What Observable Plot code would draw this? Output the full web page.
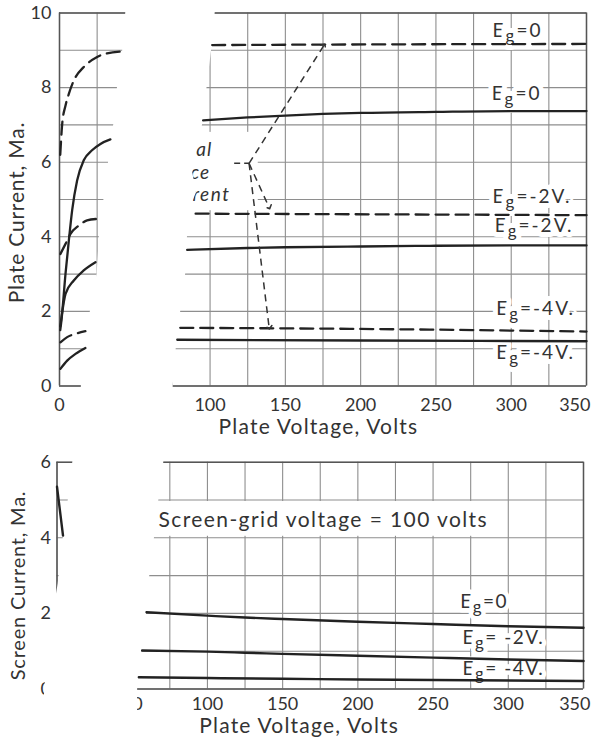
<!DOCTYPE html>
<html><head><meta charset="utf-8">
<script src="https://cdn.jsdelivr.net/npm/d3@7"></script>
<script src="https://cdn.jsdelivr.net/npm/@observablehq/plot@0.6"></script>
<style>
html,body{margin:0;padding:0;background:#fff;}
#chart{width:591px;}
#chart svg{display:block;}
</style></head><body><div id="chart"></div>
<script>
// ---------- tick labels ----------
const plateTicksX = [0, 100, 150, 200, 250, 300, 350];
const plateTicksY = [0, 2, 4, 6, 8, 10];
const screenTicksX = [50, 100, 150, 200, 250, 300, 350];
const screenTicksY = [0, 2, 4, 6];

// ---------- plate-current chart: [plate volts, mA] ----------
// dashed = total space current, solid = plate current
const spaceEg0Low  = [[0.5,6.2],[1.8,7.03],[4,7.52],[6.2,7.83],[9.5,8.19],[16.1,8.55],[25,8.82],[31.6,8.92],[41.5,8.97]];
const spaceEg0High = [[101.4,9.14],[225,9.16],[350,9.17]];
const plateEg0Low  = [[0.5,1.5],[1.3,1.76],[4,3.01],[6.2,3.9],[8.4,4.71],[11.7,5.51],[16.1,6.05],[21.6,6.32],[27.2,6.49],[33.8,6.61]];
const plateEg0High = [[95.4,7.12],[125,7.2],[150,7.25],[200,7.32],[250,7.35],[300,7.37],[350,7.37]];
const spaceEg2Low  = [[0.6,3.54],[4,3.81],[7.3,4.08],[12.8,4.3],[18.3,4.44],[25,4.48]];
const spaceEg2High = [[90.4,4.62],[225,4.6],[350,4.58]];
const plateEg2Low  = [[0.5,1.6],[1.3,1.84],[4,2.47],[9.5,2.83],[16.1,3.1],[23.9,3.32]];
const plateEg2High = [[84.8,3.65],[125,3.7],[150,3.72],[200,3.74],[250,3.76],[300,3.77],[350,3.77]];
const spaceEg4Low  = [[0.6,1.17],[5.1,1.31],[10.6,1.4],[17.2,1.47]];
const spaceEg4High = [[80.2,1.56],[200,1.53],[350,1.46]];
const plateEg4Low  = [[0.6,0.46],[5.1,0.68],[10.6,0.86],[17.2,1.02]];
const plateEg4High = [[78.2,1.24],[200,1.22],[350,1.2]];

const plateLabels = ["Eg=0", "Eg=0", "Eg=-2V.", "Eg=-2V.", "Eg=-4V.", "Eg=-4V."];
const plateLabelV = [287.6, 287, 287.6, 289, 290, 290];
const plateLabelI = [9.53, 7.84, 5.08, 4.30, 2.08, 0.90];

// note (partly lost in the torn scan): lines, right end (V), level (I)
const noteLines = ["Total", "space", "current"];
const noteEndV = [101.4, 100, 113.5];
const noteI = [6.33, 5.72, 5.12];
// arrows from the note: tail [V, I] to heads
const arrowTail = [125.9, 5.97];
const arrowHeads = [[175.6, 9.13], [139.2, 4.79], [139.2, 1.57]];

// torn gap in the scan (plate chart): I level, left edge V, right edge V
const plateGapI     = [10.2, 10, 9, 8, 7, 6.8, 6.37, 5.72, 5.18, 4.7, 4, 3, 2, 1, 0, -0.2];
const plateGapLeft  = [44, 44, 42, 38.5, 36, 35.2, 33.7, 31.7, 30, 28.7, 26.5, 25, 20.5, 17.2, 14.5, 14.5];
const plateGapRight = [103.5, 103.4, 101, 98, 95, 94, 91.5, 88.5, 91, 86, 85, 83.8, 80.5, 77.5, 75.5, 75.5];

// ---------- screen-current chart: [plate volts, mA] ----------
const screenEg0Low = [[0,5.35],[4,4.06]];
const screenEg0 = [[59.5,2.03],[100,1.94],[125,1.89],[150,1.85],[200,1.78],[250,1.72],[300,1.66],[350,1.62]];
const screenEg2 = [[56.6,1.02],[100,0.99],[125,0.96],[150,0.93],[200,0.88],[250,0.83],[300,0.78],[350,0.74]];
const screenEg4 = [[54.4,0.31],[100,0.29],[150,0.27],[200,0.25],[350,0.21]];
const screenLabels = ["Eg=0", "Eg= -2V.", "Eg= -4V."];
const screenLabelV = [268, 269.5, 269.5];
const screenLabelI = [2.31, 1.36, 0.54];
const screenNote = "Screen-grid voltage = 100 volts";

const screenGapI     = [6.3, 6, 5, 4, 2.78, 2, 1, 0, -0.8];
const screenGapLeft  = [11.5, 10.5, 7.5, 4.2, 0.8, -2.5, -5.5, -8.2, -9];
const screenGapRight = [71, 71, 67.7, 64.8, 61, 59.5, 56.5, 53.6, 53.6];

// ---------- helpers ----------
const FONT = "Lato, 'Open Sans', sans-serif";
const INK = "#333";
const GRID = "#8e8e8e";
const LINE = "#222";
function rows(arr, id, dashed) { return arr.map(([V, I]) => ({V, I, id, dashed})); }
function gap(I, L, R) { return I.map((v, i) => ({I: v, L: L[i], R: R[i]})); }

const plateRows = [
  ...rows(spaceEg0Low, "s0L", true), ...rows(spaceEg0High, "s0H", true),
  ...rows(plateEg0Low, "p0L", false), ...rows(plateEg0High, "p0H", false),
  ...rows(spaceEg2Low, "s2L", true), ...rows(spaceEg2High, "s2H", true),
  ...rows(plateEg2Low, "p2L", false), ...rows(plateEg2High, "p2H", false),
  ...rows(spaceEg4Low, "s4L", true), ...rows(spaceEg4High, "s4H", true),
  ...rows(plateEg4Low, "p4L", false), ...rows(plateEg4High, "p4H", false)
];
const screenRows = [
  ...rows(screenEg0Low, "e0L", false), ...rows(screenEg0, "e0", false),
  ...rows(screenEg2, "e2", false), ...rows(screenEg4, "e4", false)
];
const plateLabelRows = plateLabels.map((t, i) => ({t, V: plateLabelV[i], I: plateLabelI[i]}));
const screenLabelRows = screenLabels.map((t, i) => ({t, V: screenLabelV[i], I: screenLabelI[i]}));
const noteRows = noteLines.map((t, i) => ({t, V: noteEndV[i], I: noteI[i]}));
const arrows = arrowHeads.map(([V, I]) => ({V1: arrowTail[0], I1: arrowTail[1], V2: V, I2: I}));

const gridV = d3.range(0, 351, 25);
const fmt = d => String(d);

// ---------- top: plate current ----------
const plateChart = Plot.plot({
  width: 591, height: 440,
  marginLeft: 59, marginRight: 5, marginTop: 12.5, marginBottom: 54.5,
  x: {domain: [0, 350]}, y: {domain: [0, 10]},
  style: {fontFamily: FONT, fontSize: "18px", color: INK, background: "#fff"},
  marks: [
    Plot.ruleY(d3.range(0, 11), {stroke: GRID, strokeWidth: 1.1}),
    Plot.ruleX(gridV, {stroke: GRID, strokeWidth: 1.1}),
    Plot.ruleY([0, 10], {stroke: "#555", strokeWidth: 1.5}),
    Plot.ruleX([0, 350], {stroke: "#555", strokeWidth: 1.5}),
    Plot.rect([{V1: 70, V2: 132, I1: 4.7, I2: 6.8}], {x1: "V1", x2: "V2", y1: "I1", y2: "I2", fill: "#fff"}),
    Plot.text(noteRows, {x: "V", y: "I", text: "t", textAnchor: "end", lineAnchor: "middle", fontStyle: "italic", fontSize: 19, fill: INK}),
    Plot.text(plateLabelRows, {x: "V", y: "I", text: "t", textAnchor: "start", fontSize: 19, fill: INK, stroke: "#fff", strokeWidth: 10, paintOrder: "stroke"}),
    Plot.axisX({ticks: plateTicksX, tickFormat: fmt, tickSize: 0, tickPadding: 12, label: null}),
    Plot.axisY({ticks: plateTicksY, tickFormat: fmt, tickSize: 0, tickPadding: 8, label: null}),
    Plot.areaX(gap(plateGapI, plateGapLeft, plateGapRight), {y: "I", x1: "L", x2: "R", fill: "#fff"}),
    Plot.line(plateRows.filter(d => !d.dashed), {x: "V", y: "I", z: "id", stroke: LINE, strokeWidth: 2.3, curve: "monotone-x"}),
    Plot.line(plateRows.filter(d => d.dashed), {x: "V", y: "I", z: "id", stroke: LINE, strokeWidth: 2.3, strokeDasharray: "13,7", curve: "monotone-x"}),
    Plot.link([{V1: 116, V2: arrowTail[0], I: arrowTail[1]}], {x1: "V1", x2: "V2", y1: "I", y2: "I", stroke: "#333", strokeWidth: 1.5, strokeDasharray: "6,4"}),
    Plot.link(arrows, {x1: "V1", y1: "I1", x2: "V2", y2: "I2", stroke: "#333", strokeWidth: 1.5, strokeDasharray: "7,5", markerEnd: "arrow"}),
    Plot.text(["Plate Voltage, Volts"], {text: d => d, x: 172, frameAnchor: "bottom", dy: 41.5, textAnchor: "middle", lineAnchor: "middle", fontSize: 21, fill: INK}),
    Plot.text(["Plate Current, Ma."], {text: d => d, y: 4.65, frameAnchor: "left", dx: -42, rotate: -90, textAnchor: "middle", lineAnchor: "middle", fontSize: 21, fill: INK})
  ]
});

// ---------- bottom: screen current ----------
const screenChart = Plot.plot({
  width: 591, height: 303,
  marginLeft: 56.5, marginRight: 8, marginTop: 21.7, marginBottom: 54.5,
  x: {domain: [0, 350]}, y: {domain: [0, 6]},
  style: {fontFamily: FONT, fontSize: "18px", color: INK, background: "#fff"},
  marks: [
    Plot.ruleY(d3.range(0, 7), {stroke: GRID, strokeWidth: 1.1}),
    Plot.ruleX(gridV, {stroke: GRID, strokeWidth: 1.1}),
    Plot.ruleY([0, 6], {stroke: "#555", strokeWidth: 1.5}),
    Plot.ruleX([0, 350], {stroke: "#555", strokeWidth: 1.5}),
    Plot.rect([{V1: 60, V2: 285, I1: 4.04, I2: 4.96}], {x1: "V1", x2: "V2", y1: "I1", y2: "I2", fill: "#fff"}),
    Plot.text([screenNote], {text: d => d, x: 67.5, y: 4.46, textAnchor: "start", lineAnchor: "middle", fontSize: 21, fill: INK}),
    Plot.text(screenLabelRows, {x: "V", y: "I", text: "t", textAnchor: "start", fontSize: 19, fill: INK, stroke: "#fff", strokeWidth: 9, paintOrder: "stroke"}),
    Plot.axisX({ticks: screenTicksX, tickFormat: fmt, tickSize: 0, tickPadding: 8, label: null}),
    Plot.axisY({ticks: screenTicksY, tickFormat: fmt, tickSize: 0, tickPadding: 6, label: null}),
    Plot.areaX(gap(screenGapI, screenGapLeft, screenGapRight), {y: "I", x1: "L", x2: "R", fill: "#fff"}),
    Plot.line(screenRows, {x: "V", y: "I", z: "id", stroke: LINE, strokeWidth: 2.4, curve: "monotone-x"}),
    Plot.text(["Plate Voltage, Volts"], {text: d => d, x: 161, frameAnchor: "bottom", dy: 37.5, textAnchor: "middle", lineAnchor: "middle", fontSize: 21, fill: INK}),
    Plot.text(["Screen Current, Ma."], {text: d => d, y: 2.74, frameAnchor: "left", dx: -38.5, rotate: -90, textAnchor: "middle", lineAnchor: "middle", fontSize: 20, fill: INK})
  ]
});

// letter spacing to match the wide hand lettering
const spacing = new Map([
  [screenNote, "1.4px"],
  ["Plate Voltage, Volts", "1.2px"],
  ["Plate Current, Ma.", "0.8px"],
  ["Screen Current, Ma.", "0.8px"],
  ["current", "1.5px"], ["space", "1px"], ["Total", "1px"]
]);

for (const svg of [plateChart, screenChart]) {
  d3.select(svg).selectAll("text").each(function () {
    const t = this.textContent;
    const s = d3.select(this);
    // subscript g in "Eg" labels
    if (t.startsWith("Eg") && this.querySelectorAll("tspan").length === 0) {
      s.text(null);
      s.attr("letter-spacing", svg === plateChart ? "2px" : "1.5px");
      s.append("tspan").text("E");
      s.append("tspan").attr("dy", 5).attr("font-size", "0.9em").text("g");
      s.append("tspan").attr("dy", -5).text(t.slice(2));
    }
    if (spacing.has(t)) s.attr("letter-spacing", spacing.get(t));
    // last tick sits on the page edge: keep it whole
    if (t === "350") s.attr("text-anchor", "end").attr("dx", svg === plateChart ? 4 : 7);
  });
}

document.getElementById("chart").append(plateChart, screenChart);
</script></body></html>
